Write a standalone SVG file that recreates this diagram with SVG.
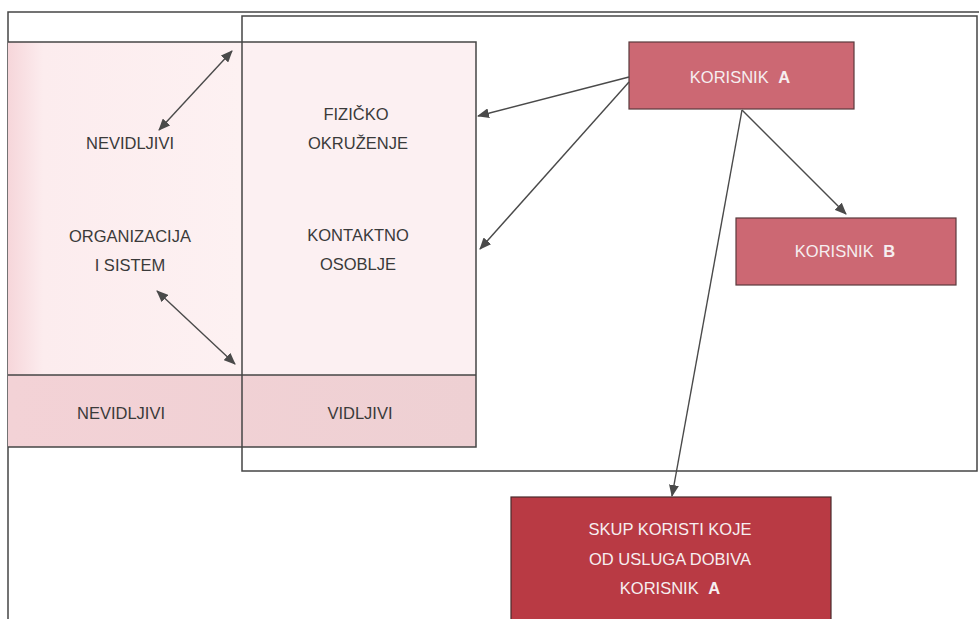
<svg xmlns="http://www.w3.org/2000/svg" width="979" height="619" viewBox="0 0 979 619">
<style>
.ln{stroke:#464646;stroke-width:1.5;fill:none}
.cn{stroke:#4a4a4a;stroke-width:1.4;fill:none}
.tx{font-family:"Liberation Sans",Arial,sans-serif;font-size:16.5px;fill:#3a3a3a;text-anchor:middle}
.wt{font-family:"Liberation Sans",Arial,sans-serif;font-size:16.5px;fill:#f6eef0;text-anchor:middle}
.b{font-weight:bold}
</style>
<defs>
<marker id="ah" viewBox="0 0 12 10" refX="11" refY="5" markerWidth="12" markerHeight="10" markerUnits="userSpaceOnUse" orient="auto-start-reverse">
<path d="M0,0 L12,5 L0,10 Z" fill="#4a4a4a"/>
</marker>
<linearGradient id="lg" x1="0" y1="0" x2="1" y2="0">
<stop offset="0" stop-color="#f6d6da"/>
<stop offset="0.15" stop-color="#fcecee"/>
<stop offset="1" stop-color="#fdf1f2"/>
</linearGradient>
<linearGradient id="lb" x1="0" y1="0" x2="1" y2="0">
<stop offset="0" stop-color="#f3d2d6"/>
<stop offset="1" stop-color="#eed0d3"/>
</linearGradient>
</defs>
<rect x="0" y="0" width="979" height="619" fill="#ffffff"/>
<g id="page-border">
<path class="ln" d="M8,619 L8,12 L979,12"/>
</g>
<g id="table">
<rect x="8" y="42" width="234" height="333" fill="url(#lg)"/>
<rect x="242" y="42" width="234" height="333" fill="#fcf0f2"/>
<rect x="8" y="375" width="468" height="72" fill="url(#lb)"/>
<path class="ln" d="M8,42 L476,42 L476,447 L8,447 M8,375 L476,375"/>
</g>
<g id="frame">
<path class="ln" d="M242,16 L977,16 L977,471 L242,471 Z"/>
</g>
<g id="node-nevidljivi-top">
<text class="tx" x="130" y="149">NEVIDLJIVI</text>
</g>
<g id="node-fizicko">
<text class="tx" x="356" y="120">FIZIČKO</text>
<text class="tx" x="358" y="149">OKRUŽENJE</text>
</g>
<g id="node-organizacija">
<text class="tx" x="130" y="242">ORGANIZACIJA</text>
<text class="tx" x="130" y="271">I SISTEM</text>
</g>
<g id="node-kontaktno">
<text class="tx" x="358" y="241">KONTAKTNO</text>
<text class="tx" x="358" y="270">OSOBLJE</text>
</g>
<g id="node-nevidljivi-bottom">
<text class="tx" x="121" y="419">NEVIDLJIVI</text>
</g>
<g id="node-vidljivi">
<text class="tx" x="360" y="419">VIDLJIVI</text>
</g>
<g id="node-korisnik-a">
<rect x="629" y="42" width="225" height="67" fill="#cc6873" stroke="#5a3a3d" stroke-width="1.2"/>
<text class="wt" x="740" y="83">KORISNIK <tspan class="b" dx="5">A</tspan></text>
</g>
<g id="node-korisnik-b">
<rect x="736" y="218" width="220" height="67" fill="#cc6873" stroke="#5a3a3d" stroke-width="1.2"/>
<text class="wt" x="845" y="257">KORISNIK <tspan class="b" dx="5">B</tspan></text>
</g>
<g id="node-skup">
<rect x="511" y="497" width="320" height="130" fill="#b93a44" stroke="#4a2a2c" stroke-width="1.2"/>
<text class="wt" x="670" y="535">SKUP KORISTI KOJE</text>
<text class="wt" x="670" y="565">OD USLUGA DOBIVA</text>
<text class="wt" x="670" y="594">KORISNIK <tspan class="b" dx="5">A</tspan></text>
</g>
<g id="connectors">
<line class="cn" x1="629" y1="77" x2="478" y2="116" marker-end="url(#ah)"/>
<line class="cn" x1="629" y1="82" x2="480" y2="249" marker-end="url(#ah)"/>
<line class="cn" x1="742" y1="110" x2="846" y2="214" marker-end="url(#ah)"/>
<line class="cn" x1="742" y1="110" x2="672" y2="496" marker-end="url(#ah)"/>
<line class="cn" x1="159" y1="130" x2="232" y2="51" marker-start="url(#ah)" marker-end="url(#ah)"/>
<line class="cn" x1="157" y1="291" x2="235" y2="364" marker-start="url(#ah)" marker-end="url(#ah)"/>
</g>
</svg>
